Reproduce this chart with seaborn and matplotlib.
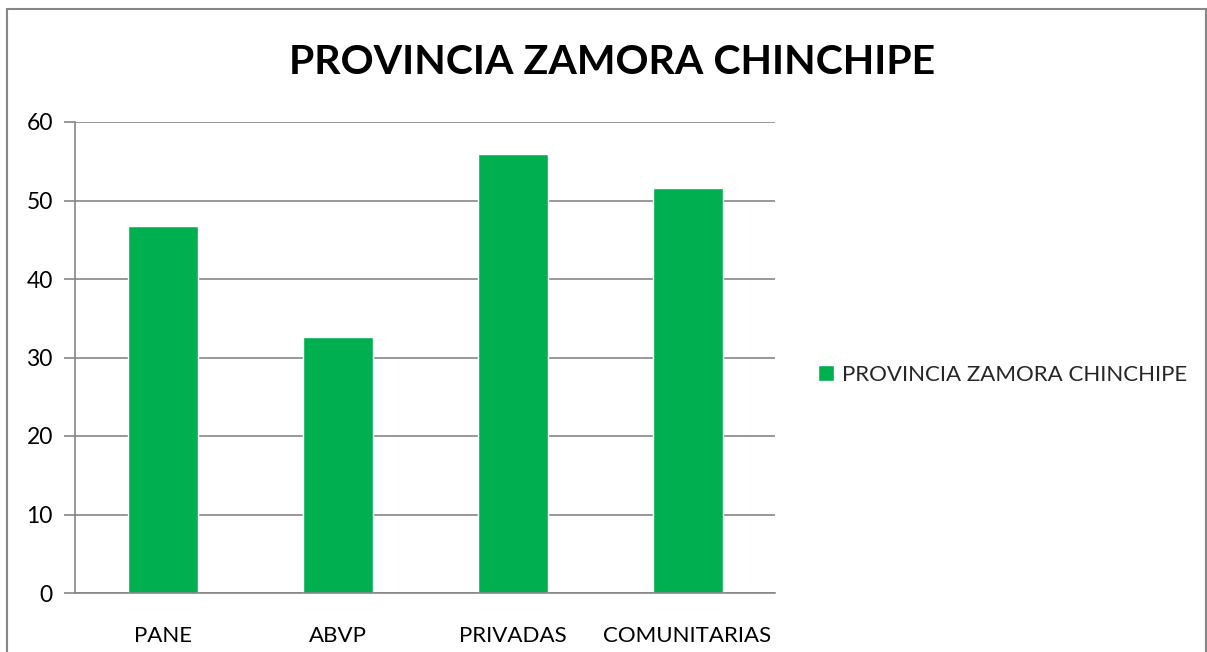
import matplotlib
matplotlib.use("Agg")
import matplotlib.pyplot as plt
import seaborn as sns
import pandas as pd
from matplotlib.patches import Rectangle

# data
categorias = ["PANE", "ABVP", "PRIVADAS", "COMUNITARIAS"]
valores = [46.8, 32.6, 55.9, 51.6]
serie = "PROVINCIA ZAMORA CHINCHIPE"
titulo = "PROVINCIA ZAMORA CHINCHIPE"
y_ticks = [0, 10, 20, 30, 40, 50, 60]

verde = "#00B050"
gris = "#868686"

sns.set_theme(style="white")
plt.rcParams["font.family"] = ["Lato", "DejaVu Sans"]

df = pd.DataFrame({"categoria": categorias, "valor": valores})

fig = plt.figure(figsize=(12.07, 6.52), dpi=100)
ax = fig.add_axes([75 / 1207, 1 - 593 / 652, 700 / 1207, 471 / 652])

sns.barplot(data=df, x="categoria", y="valor", color=verde, width=0.4,
            saturation=1, label=serie, ax=ax)

ax.set_ylim(0, 60)
ax.set_xlim(-0.5, len(categorias) - 0.5)
ax.set_yticks(y_ticks)
ax.set_xlabel("")
ax.set_ylabel("")
ax.yaxis.grid(True, color=gris, linewidth=1.2)
ax.set_axisbelow(True)

for s in ["top", "right"]:
    ax.spines[s].set_visible(False)
for s in ["left", "bottom"]:
    ax.spines[s].set_color(gris)
    ax.spines[s].set_linewidth(1.2)

# ticks at the category boundaries, labels at the centres
ax.set_xticks([i - 0.5 for i in range(len(categorias) + 1)], minor=True)
ax.tick_params(axis="x", which="minor", length=8, width=1.2, color=gris, direction="out")
ax.tick_params(axis="x", which="major", length=0, pad=24, labelsize=16, labelcolor="#000000")
ax.tick_params(axis="y", which="major", length=8, width=1.2, color=gris, direction="out",
               left=True, pad=8, labelsize=16.5, labelcolor="#000000")

fig.text(612 / 1207, 1 - 62 / 652, titulo, ha="center", va="center",
         fontsize=29.5, fontweight="bold", color="#000000")

leg = ax.legend(loc="center left", bbox_to_anchor=(798 / 1207, 1 - 375 / 652),
                bbox_transform=fig.transFigure, frameon=False, fontsize=16,
                handlelength=0.7, handleheight=0.7, handletextpad=0.4)

# outer chart frame
fig.patches.append(Rectangle((7 / 1207, -0.05), 1199 / 1207, 1.05 - 9 / 652,
                             transform=fig.transFigure, fill=False,
                             edgecolor=gris, linewidth=1.5))

fig.savefig("out.png", dpi=100)
